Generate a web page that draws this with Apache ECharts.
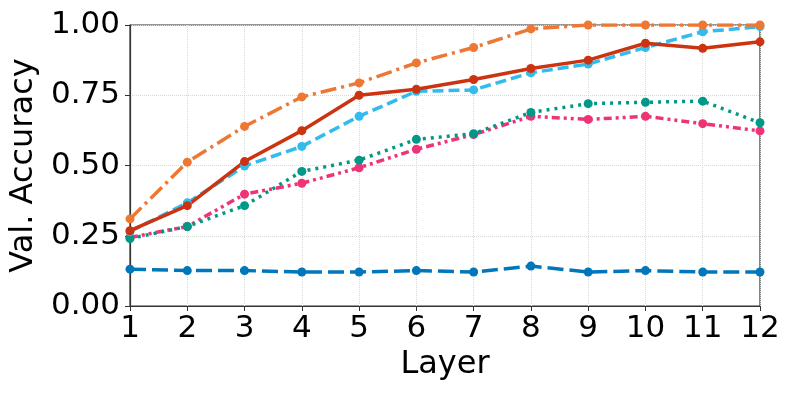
<!DOCTYPE html>
<html lang="en">
  <head>
    <meta charset="UTF-8" />
    <title>Val. Accuracy by Layer</title>
  </head>
  <body style="margin: 0">
    <div id="main" style="width: 793px; height: 397px"></div>

    <script src="https://cdn.jsdelivr.net/npm/echarts@6/dist/echarts.min.js"></script>
    <script>
      // layers on the x axis
      const layers = [1, 2, 3, 4, 5, 6, 7, 8, 9, 10, 11, 12]
      const yTicks = [0, 0.25, 0.5, 0.75, 1.0]

      // one array per line
      const orangeVals = [0.31, 0.512, 0.639, 0.744, 0.794, 0.865, 0.92, 0.986, 1.0, 1.0, 1.0, 1.0]
      const redVals = [0.268, 0.357, 0.514, 0.624, 0.75, 0.771, 0.806, 0.845, 0.875, 0.935, 0.917, 0.94]
      const cyanVals = [0.265, 0.367, 0.498, 0.568, 0.675, 0.764, 0.769, 0.83, 0.861, 0.92, 0.976, 0.994]
      const tealVals = [0.24, 0.283, 0.357, 0.479, 0.519, 0.593, 0.613, 0.689, 0.72, 0.725, 0.729, 0.652]
      const magentaVals = [0.244, 0.283, 0.398, 0.437, 0.492, 0.558, 0.61, 0.675, 0.664, 0.675, 0.649, 0.623]
      const blueVals = [0.131, 0.126, 0.126, 0.121, 0.121, 0.126, 0.121, 0.142, 0.121, 0.126, 0.121, 0.121]

      const font = 'DejaVu Sans'

      function line(name, vals, color, dash) {
        return {
          name: name,
          type: 'line',
          data: layers.map((l, i) => [l, vals[i]]),
          symbol: 'circle',
          symbolSize: 9,
          showSymbol: true,
          itemStyle: { color: color },
          lineStyle: { color: color, width: 3.5, type: dash },
          emphasis: { disabled: true },
          animation: false
        }
      }

      let option = {
        grid: {
          left: 130,
          right: 33,
          top: 25,
          bottom: 91,
          show: true,
          borderColor: '#333',
          borderWidth: 1.2,
          backgroundColor: 'transparent'
        },
        xAxis: {
          type: 'value',
          min: 1,
          max: 12,
          interval: 1,
          name: 'Layer',
          nameLocation: 'middle',
          nameGap: 40,
          nameTextStyle: { fontFamily: font, fontSize: 32, color: '#000' },
          axisLine: { show: true, lineStyle: { color: '#333', width: 1.2 } },
          axisTick: { show: true, length: 5, lineStyle: { color: '#333' } },
          axisLabel: { fontFamily: font, fontSize: 31, color: '#000', margin: 7 },
          splitLine: { show: true, lineStyle: { color: '#d8d8d8', type: 'dotted', width: 1 } }
        },
        yAxis: {
          type: 'value',
          min: yTicks[0],
          max: yTicks[yTicks.length - 1],
          interval: 0.25,
          name: 'Val. Accuracy',
          nameLocation: 'middle',
          nameGap: 90,
          nameTextStyle: { fontFamily: font, fontSize: 32, color: '#000' },
          axisLine: { show: true, lineStyle: { color: '#333', width: 1.2 } },
          axisTick: { show: true, length: 5, lineStyle: { color: '#333' } },
          axisLabel: {
            fontFamily: font,
            fontSize: 31,
            color: '#000',
            margin: 10,
            formatter: v => v.toFixed(2)
          },
          splitLine: { show: true, lineStyle: { color: '#d8d8d8', type: 'dotted', width: 1 } }
        },
        series: [
          line('blue', blueVals, '#0077BB', [16, 6]),
          line('magenta', magentaVals, '#EE3377', [8, 4, 3, 4, 3, 4]),
          line('teal', tealVals, '#009988', [3, 5]),
          line('cyan', cyanVals, '#33BBEE', [11, 5]),
          line('red', redVals, '#CC3311', 'solid'),
          line('orange', orangeVals, '#EE7733', [16, 5, 3, 5])
        ]
      }
      echarts.init(document.querySelector('#main')).setOption(option)
    </script>
  </body>
</html>
